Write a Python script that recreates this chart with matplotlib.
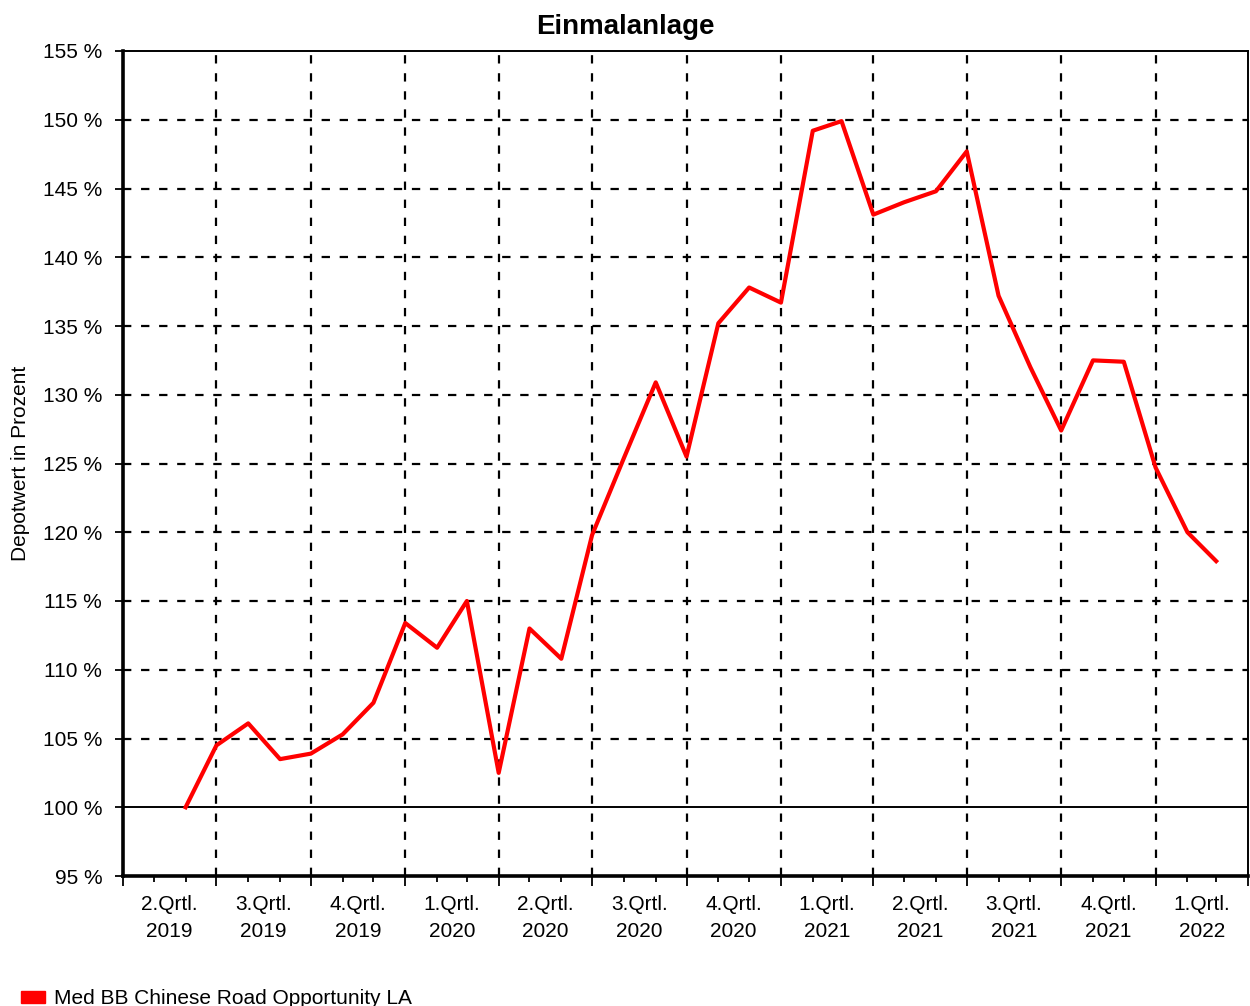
import pandas as pd
import matplotlib
matplotlib.use("Agg")
import matplotlib.pyplot as plt
import matplotlib.dates as mdates
from matplotlib.patches import Patch

plt.rcParams["font.family"] = ["Liberation Sans", "DejaVu Sans"]
plt.rcParams["lines.scale_dashes"] = False

# monthly values (first of each month), Depotwert in %
dates = pd.date_range("2019-06-01", "2022-03-01", freq="MS")
values = [100.0, 104.5, 106.1, 103.5, 103.9, 105.3, 107.6,
          113.4, 111.6, 115.0, 102.5, 113.0, 110.8, 119.8, 125.4, 130.9, 125.5, 135.2, 137.8,
          136.7, 149.2, 149.9, 143.1, 144.0, 144.8, 147.7, 137.2, 132.0, 127.4, 132.5, 132.4,
          124.7, 120.0, 117.9]

quarter_starts = pd.date_range("2019-04-01", "2022-01-01", freq="QS")
quarter_labels = ["2.Qrtl.\n2019", "3.Qrtl.\n2019", "4.Qrtl.\n2019",
                  "1.Qrtl.\n2020", "2.Qrtl.\n2020", "3.Qrtl.\n2020", "4.Qrtl.\n2020",
                  "1.Qrtl.\n2021", "2.Qrtl.\n2021", "3.Qrtl.\n2021", "4.Qrtl.\n2021",
                  "1.Qrtl.\n2022"]
y_ticks = list(range(95, 156, 5))
series_name = "Med BB Chinese Road Opportunity LA"

fig = plt.figure(figsize=(12.5, 10.06), dpi=100)
ax = fig.add_axes([123 / 1250, 1 - 876 / 1006, 1125 / 1250, 825 / 1006])

x_start = pd.Timestamp("2019-04-01")
x_end = pd.Timestamp("2022-03-30")
ax.set_xlim(x_start, x_end)
ax.set_ylim(95, 155)

dash = (0, (6.0, 7.0))
# horizontal grid
for v in y_ticks[1:-1]:
    if v == 100:
        ax.axhline(v, color="black", lw=1.4, zorder=1)
    else:
        ax.axhline(v, color="black", lw=1.6, linestyle=dash, zorder=1)
# vertical grid at quarter boundaries
for q in quarter_starts[1:]:
    ax.axvline(q, color="black", lw=1.6, linestyle=dash, zorder=1)

ax.plot(dates, values, color="#ff0000", lw=3.0, zorder=3)

# axes styling
ax.spines["left"].set_linewidth(2.6)
ax.spines["bottom"].set_linewidth(2.6)
ax.spines["top"].set_linewidth(1.4)
ax.spines["right"].set_linewidth(1.4)

ax.set_yticks(y_ticks)
ax.set_yticklabels([f"{v} %" for v in y_ticks])
ax.tick_params(axis="y", direction="out", length=6, width=1.3, pad=9, labelsize=15)

ax.set_xticks(list(quarter_starts) + [pd.Timestamp("2022-04-01")])
ax.set_xticklabels([])
ax.xaxis.set_minor_locator(mdates.MonthLocator())
ax.tick_params(axis="x", which="major", direction="out", length=7, width=1.3)
ax.tick_params(axis="x", which="minor", direction="out", length=4, width=1.3)

# quarter labels centred inside each quarter
bounds = list(quarter_starts) + [pd.Timestamp("2022-04-01")]
for i, lab in enumerate(quarter_labels):
    mid = bounds[i] + (bounds[i + 1] - bounds[i]) / 2
    ax.annotate(lab, xy=(mid, 0), xycoords=("data", "axes fraction"),
                xytext=(0, -13.5), textcoords="offset points",
                ha="center", va="top", fontsize=15, linespacing=1.52)

ax.set_ylabel("Depotwert in Prozent", fontsize=15)
ax.yaxis.set_label_coords(-0.083, 0.5)

fig.suptitle("Einmalanlage", fontsize=20, fontweight="bold", y=1 - 27 / 1006, va="center")

fig.legend(handles=[Patch(color="#ff0000", label=series_name)],
           loc="lower left", bbox_to_anchor=(0.0016, -0.021), frameon=False,
           fontsize=15, handlelength=1.15, handleheight=0.45, handletextpad=0.45)

fig.savefig("out.png", dpi=100)
